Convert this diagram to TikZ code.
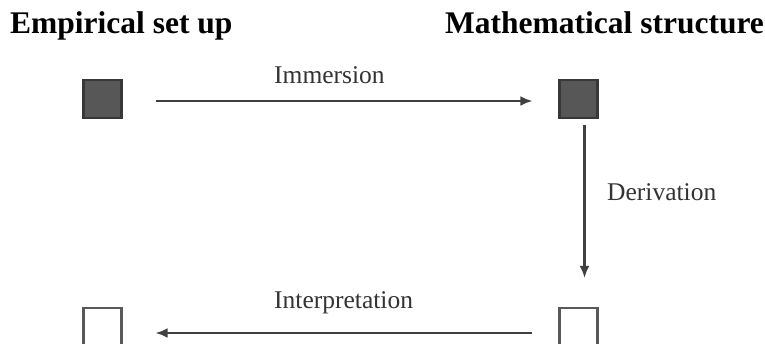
\documentclass[tikz,border=0pt]{standalone}
\usepackage{fontspec}
\setmainfont{Liberation Serif}
\usetikzlibrary{arrows.meta}
\begin{document}
\begin{tikzpicture}[x=1pt,y=-1pt,
  darkbox/.style={draw=black!78,fill=black!66,line width=2.2pt,minimum size=38pt,inner sep=0pt},
  lightbox/.style={draw=black!65,fill=white,line width=2.2pt,minimum size=38pt,inner sep=0pt},
  conn/.style={draw=black!75,line width=2.2pt,-{Latex[length=12pt,width=10pt]}},
  head/.style={font=\fontsize{31.5}{36}\selectfont\bfseries,anchor=base west,inner sep=0pt},
  lbl/.style={font=\fontsize{25.5}{30}\selectfont,text=black!80,anchor=base west,inner sep=0pt}]
\useasboundingbox (0,0) rectangle (765,343);
\node[head] (h1) at (10,33) {Empirical set up};
\node[head] (h2) at (445,33) {Mathematical structure};
\node[darkbox] (es) at (102.5,99) {};
\node[darkbox] (ms) at (578.5,99) {};
\node[lightbox] (ei) at (102.5,327) {};
\node[lightbox] (mi) at (578.5,327) {};
\draw[conn,shorten <=33pt,shorten >=26pt] ([yshift=-2pt]es.east) -- ([yshift=-2pt]ms.west);
\draw[conn,shorten <=6pt,shorten >=29pt] ([xshift=6pt]ms.south) -- ([xshift=6pt]mi.north);
\draw[conn,shorten <=26pt,shorten >=33pt] ([yshift=-6pt]mi.west) -- ([yshift=-6pt]ei.east);
\node[lbl] (l1) at (274,83) {Immersion};
\node[lbl] (l2) at (607,200) {Derivation};
\node[lbl] (l3) at (274,308) {Interpretation};
\end{tikzpicture}
\end{document}
